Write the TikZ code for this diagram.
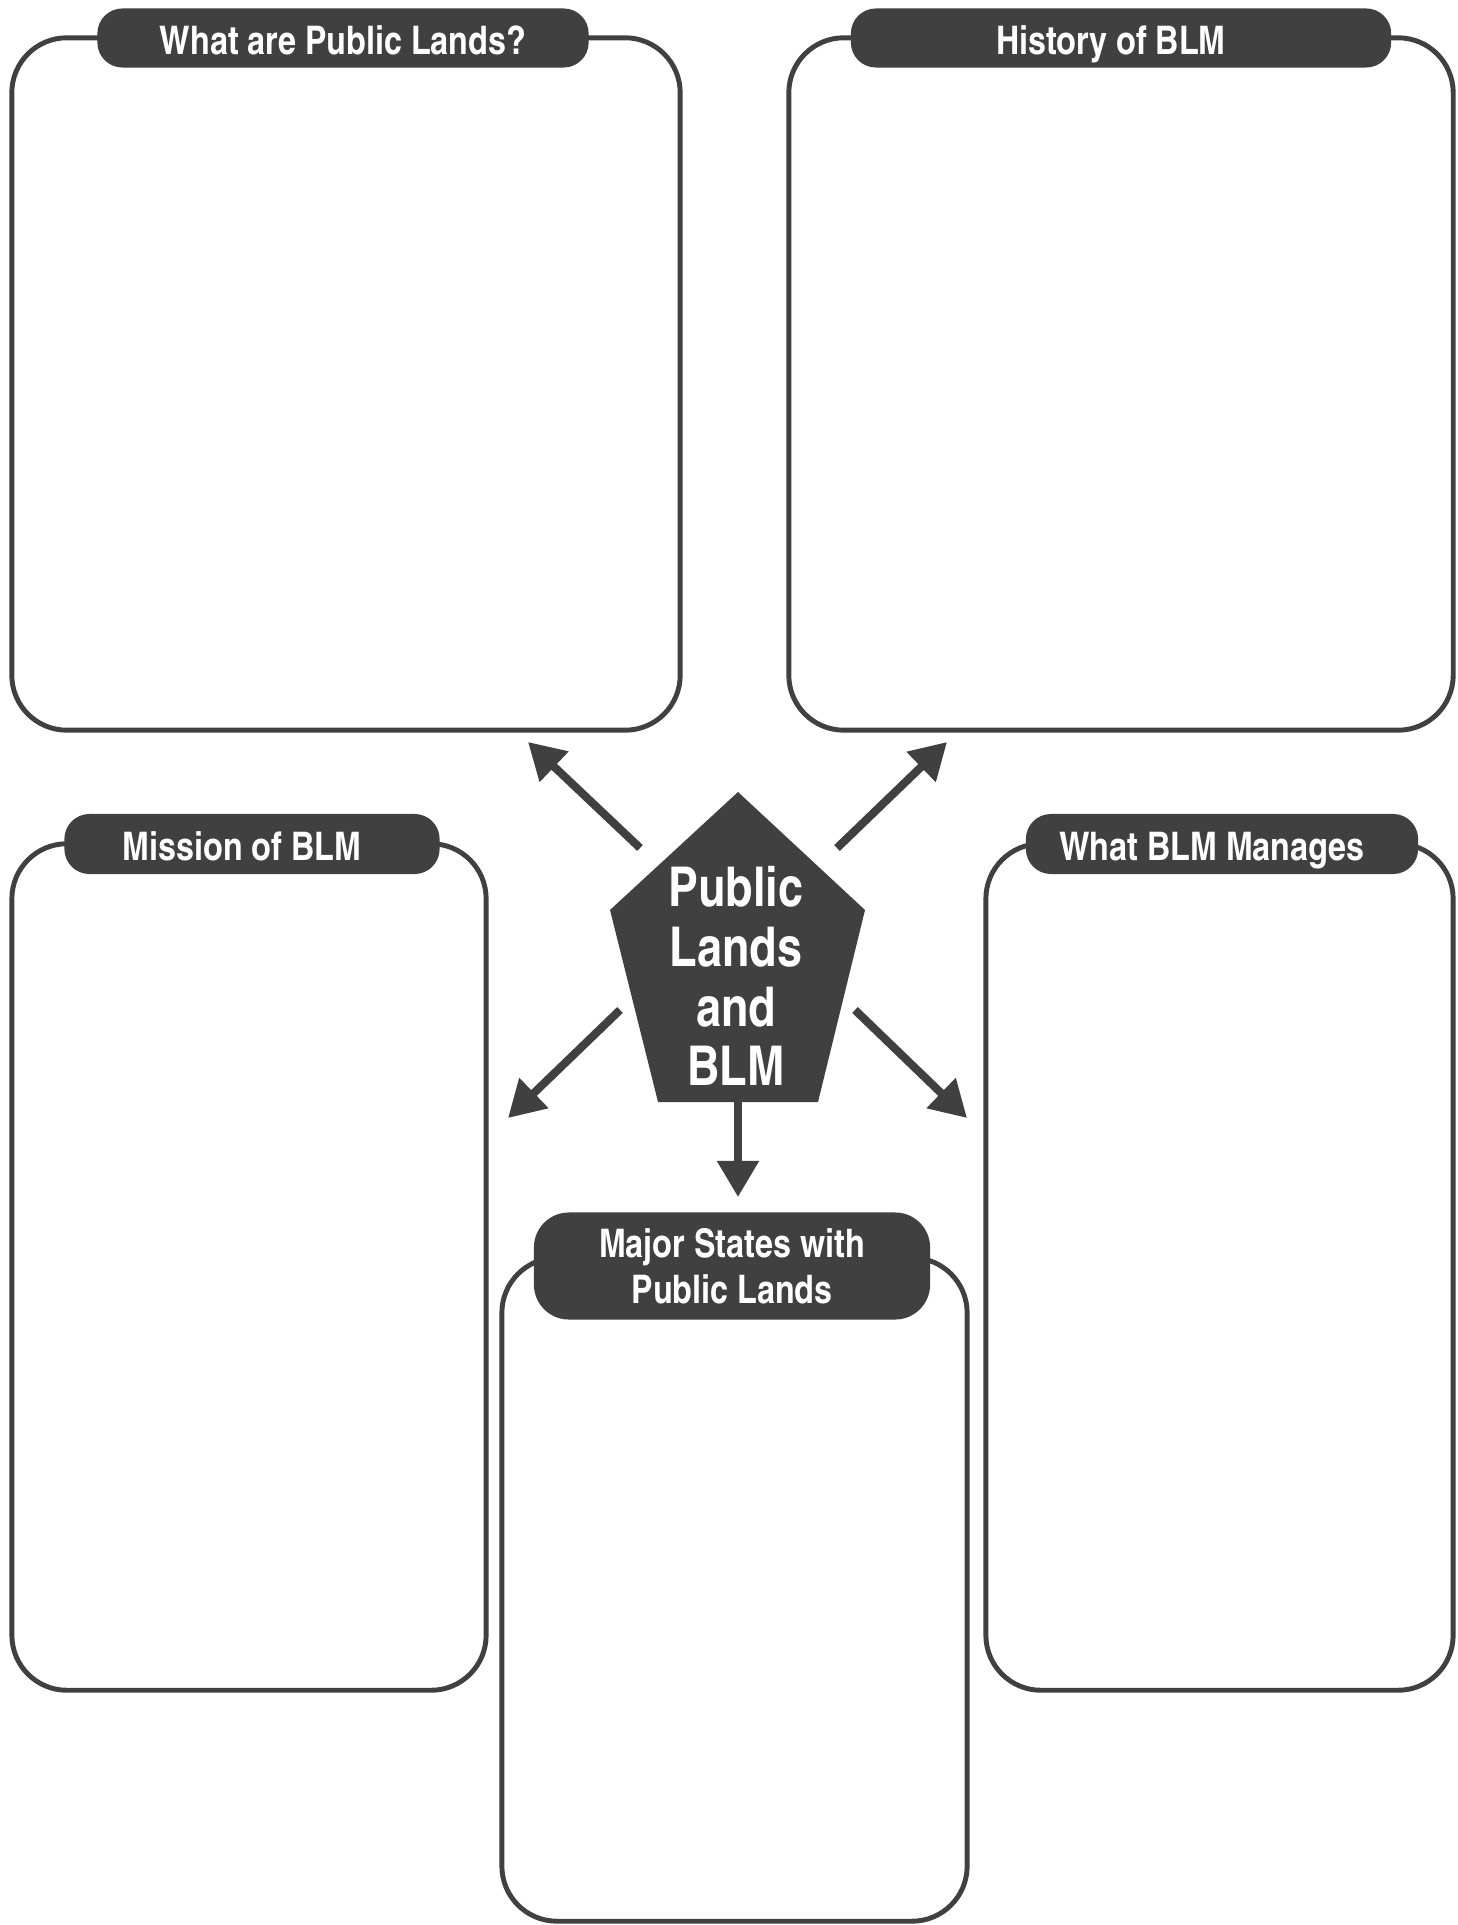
\documentclass[tikz,border=0pt]{standalone}
\usepackage{fontspec}
\newfontfamily\cnfont{texgyreheroscn-bold.otf}
\usetikzlibrary{arrows.meta}
\definecolor{ink}{RGB}{64,64,64}
\tikzset{
  panel/.style={draw=ink,line width=1.4pt,rounded corners=0.55cm,fill=white},
  tab/.style={fill=ink,text=white,rounded corners=0.25cm,align=center,
    font=\cnfont\fontsize{11.2}{13}\selectfont},
  onerow/.style={tab,text height=2.25ex,text depth=0.1ex},
  spoke/.style={draw=ink,line width=2.3pt,-{Triangle[length=0.36cm,width=0.4cm]}}
}
\begin{document}
\begin{tikzpicture}[x=0.01cm,y=-0.01cm]
  \fill[white] (0,0) rectangle (1457,1925);
  \useasboundingbox (0,0) rectangle (1457,1925);
  % the five answer panels
  \foreach \nm/\cx/\cy/\w/\h in {lands/346/384/6.68/6.92, history/1121/384/6.64/6.92,
      mission/249/1267/4.74/8.46, manages/1219.5/1267/4.67/8.46, states/734.5/1589.5/4.65/6.63}
    \node[panel,minimum width=\w cm,minimum height=\h cm] (\nm) at (\cx,\cy) {};
  % their titles
  \foreach \nm/\cx/\cy/\w/\h/\sh/\txt in {landsT/343/38/4.91/0.57/0/What are Public Lands?,
      historyT/1121/38/5.40/0.57/-0.2/History of BLM, missionT/252/844/3.75/0.60/-0.2/Mission of BLM,
      managesT/1222/844/3.92/0.60/-0.2/What BLM Manages}
    \node[onerow,minimum width=\w cm,minimum height=\h cm] (\nm) at (\cx,\cy) {\hspace*{\sh cm}\txt};
  \node[tab,rounded corners=0.35cm,minimum width=3.96cm,minimum height=1.07cm]
    (statesT) at (732,1266) {Major States with\\Public Lands};
  % centre pentagon
  \fill[ink] (738,792) -- (865,910) -- (818,1102) -- (658,1102) -- (610,910) -- cycle;
  \node[text=white,align=center,font=\cnfont\fontsize{15.6}{17}\selectfont]
    (hub) at (736,976) {Public\\Lands\\and\\BLM};
  % arrows out of the hub
  \foreach \nm/\a/\b/\c/\d in {ul/640/848/528/742, ur/837/848/947/742,
      dl/620/1010/508/1118, dr/855/1010/967/1118, dn/738/1102/738/1197}
  {
    \coordinate (\nm0) at (\a,\b);
    \coordinate (\nm1) at (\c,\d);
    \draw[spoke] (\nm0) -- (\nm1);
  }
\end{tikzpicture}
\end{document}
